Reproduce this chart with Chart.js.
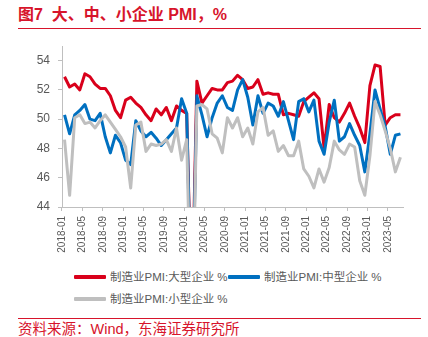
<!DOCTYPE html>
<html>
<head>
<meta charset="utf-8">
<script src="https://cdn.jsdelivr.net/npm/chart.js@4.4.0/dist/chart.umd.min.js"></script>
<style>
  html, body { margin: 0; padding: 0; background: #fff; }
  body { width: 428px; height: 337px; position: relative; overflow: hidden;
         font-family: "Liberation Sans", "Noto Sans CJK SC", sans-serif; }
  #title { position: absolute; left: 18px; top: 5px; font-size: 16px; font-weight: bold;
           color: #D7142B; white-space: pre; line-height: 20px; }
  .rule { position: absolute; left: 18px; width: 403px; height: 1px; background: #D7142B; }
  #chartBox { position: absolute; left: 0; top: 30px; width: 428px; height: 232px; }
  #legend { position: absolute; left: 0; top: 0; width: 428px; height: 0; }
  .item { position: absolute; height: 16px; line-height: 16px; font-size: 11.5px; color: #595959; white-space: nowrap; }
  .item i { display: inline-block; width: 32px; height: 4px; vertical-align: middle; margin-right: 4px; border-radius: 1px; position: relative; top: -1px; }
  #source { position: absolute; left: 18px; top: 321px; font-size: 14.5px; line-height: 16px; color: #D7142B; white-space: nowrap; }
</style>
</head>
<body>
<div id="title">图7  大、中、小企业 PMI，%</div>
<div class="rule" style="top:28px"></div>
<div id="chartBox"><canvas id="pmiChart"></canvas></div>
<div id="legend"></div>
<div class="rule" style="top:318px"></div>
<div id="source">资料来源：Wind，东海证券研究所</div>

<script>
// months on the x axis (2018-01 .. 2023-07)
const months = [
  '2018-01','2018-02','2018-03','2018-04','2018-05','2018-06','2018-07','2018-08','2018-09','2018-10','2018-11','2018-12',
  '2019-01','2019-02','2019-03','2019-04','2019-05','2019-06','2019-07','2019-08','2019-09','2019-10','2019-11','2019-12',
  '2020-01','2020-02','2020-03','2020-04','2020-05','2020-06','2020-07','2020-08','2020-09','2020-10','2020-11','2020-12',
  '2021-01','2021-02','2021-03','2021-04','2021-05','2021-06','2021-07','2021-08','2021-09','2021-10','2021-11','2021-12',
  '2022-01','2022-02','2022-03','2022-04','2022-05','2022-06','2022-07','2022-08','2022-09','2022-10','2022-11','2022-12',
  '2023-01','2023-02','2023-03','2023-04','2023-05','2023-06','2023-07'
];

// 大型企业
const largePMI = [
  52.9, 52.2, 52.4, 52.0, 53.1, 52.9, 52.4, 52.1, 52.1, 51.6, 50.6, 50.1,
  51.3, 51.5, 51.1, 50.8, 50.3, 49.9, 50.7, 50.3, 50.8, 49.9, 50.9, 50.6,
  50.4, 36.6, 52.6, 51.1, 51.6, 52.1, 52.0, 52.0, 52.5, 52.6, 53.0, 52.7,
  52.1, 52.2, 52.7, 51.7, 51.8, 51.7, 51.7, 50.3, 50.4, 50.3, 50.2, 51.2,
  51.5, 51.8, 51.4, 48.0, 51.0, 50.1, 49.8, 50.4, 51.1, 50.2, 49.4, 48.4,
  52.3, 53.7, 53.6, 49.6, 50.1, 50.3, 50.3
];

// 中型企业
const mediumPMI = [
  50.3, 49.0, 50.3, 50.6, 51.0, 50.0, 49.9, 50.4, 48.8, 47.7, 48.9, 48.4,
  47.2, 46.9, 49.9, 49.2, 48.8, 49.1, 48.7, 48.2, 48.6, 49.0, 49.4, 51.4,
  50.4, 35.5, 51.6, 50.3, 48.8, 50.1, 51.1, 51.6, 50.8, 50.6, 52.0, 52.7,
  51.5, 49.6, 51.6, 50.4, 51.1, 50.9, 50.2, 51.2, 49.9, 48.6, 51.2, 51.4,
  50.5, 51.3, 48.5, 47.6, 49.8, 51.3, 48.5, 48.8, 49.7, 48.9, 48.2, 46.4,
  49.0, 52.0, 50.7, 49.5, 47.6, 48.9, 49.0
];

// 小型企业
const smallPMI = [
  48.6, 44.8, 50.1, 50.3, 49.7, 49.8, 49.4, 49.9, 50.3, 49.8, 49.3, 48.8,
  48.1, 45.3, 49.6, 49.8, 47.8, 48.3, 48.2, 48.3, 48.6, 47.8, 49.4, 47.2,
  48.6, 34.1, 50.9, 51.0, 50.7, 49.0, 48.7, 47.7, 50.1, 49.4, 50.1, 48.8,
  49.4, 48.3, 50.5, 50.8, 48.9, 49.2, 47.8, 48.2, 47.5, 47.5, 48.5, 46.6,
  46.1, 45.3, 46.6, 45.7, 46.7, 48.5, 47.9, 47.6, 48.3, 48.1, 45.8, 44.8,
  47.5, 51.2, 50.3, 49.2, 48.0, 46.4, 47.4
];

const seriesNames = ['制造业PMI:大型企业 %', '制造业PMI:中型企业 %', '制造业PMI:小型企业 %'];
const seriesColors = ['#D9001B', '#0070C0', '#BFBFBF'];
const yTicks = [44, 46, 48, 50, 52, 54];

const axisGray = '#BFBFBF';
const textGray = '#595959';

// 📈 chart
new Chart(document.getElementById('pmiChart'), {
  type: 'line',
  data: {
    labels: months,
    datasets: [
      { label: seriesNames[0], data: largePMI, borderColor: seriesColors[0], order: 2 },
      { label: seriesNames[1], data: mediumPMI, borderColor: seriesColors[1], order: 1 },
      { label: seriesNames[2], data: smallPMI, borderColor: seriesColors[2], order: 0 }
    ]
  },
  options: {
    responsive: true,
    maintainAspectRatio: false,
    animation: false,
    devicePixelRatio: 1,
    layout: { padding: { top: 16, right: 25, left: 0, bottom: 0 } },
    elements: {
      point: { radius: 0 },
      line: { borderWidth: 3, tension: 0, borderJoinStyle: 'round', fill: false }
    },
    plugins: { legend: { display: false }, tooltip: { enabled: false } },
    scales: {
      x: {
        type: 'category',
        offset: true,
        afterFit: s => { s.height = 55; },
        border: { color: axisGray, width: 1 },
        grid: {
          offset: true,
          drawOnChartArea: false,
          tickLength: 4,
          tickColor: ctx => (ctx.index % 4 === 0 ? axisGray : 'rgba(0,0,0,0)')
        },
        ticks: {
          autoSkip: false,
          maxRotation: 90,
          minRotation: 90,
          padding: 5,
          labelOffset: -2.5,
          color: textGray,
          font: { family: '"Liberation Sans", Arial, sans-serif', size: 10 },
          callback: function (val, i) { return i % 4 === 0 ? months[i] : ''; }
        }
      },
      y: {
        min: 44,
        max: 55,
        afterFit: s => { s.width = 62; },
        afterBuildTicks: s => { s.ticks = yTicks.map(v => ({ value: v })); },
        border: { color: axisGray, width: 1 },
        grid: { drawOnChartArea: false, tickLength: 4, tickColor: axisGray },
        ticks: {
          padding: 8,
          color: textGray,
          font: { family: '"Liberation Sans", Arial, sans-serif', size: 12 }
        }
      }
    }
  }
});

// legend (two rows, left aligned like the original)
const legendPos = [[74, 269], [228, 269], [74, 291]];
const legendBox = document.getElementById('legend');
seriesNames.forEach((name, k) => {
  const el = document.createElement('div');
  el.className = 'item';
  el.style.left = legendPos[k][0] + 'px';
  el.style.top = legendPos[k][1] + 'px';
  el.innerHTML = '<i style="background:' + seriesColors[k] + '"></i>' + name;
  legendBox.appendChild(el);
});
</script>
</body>
</html>
